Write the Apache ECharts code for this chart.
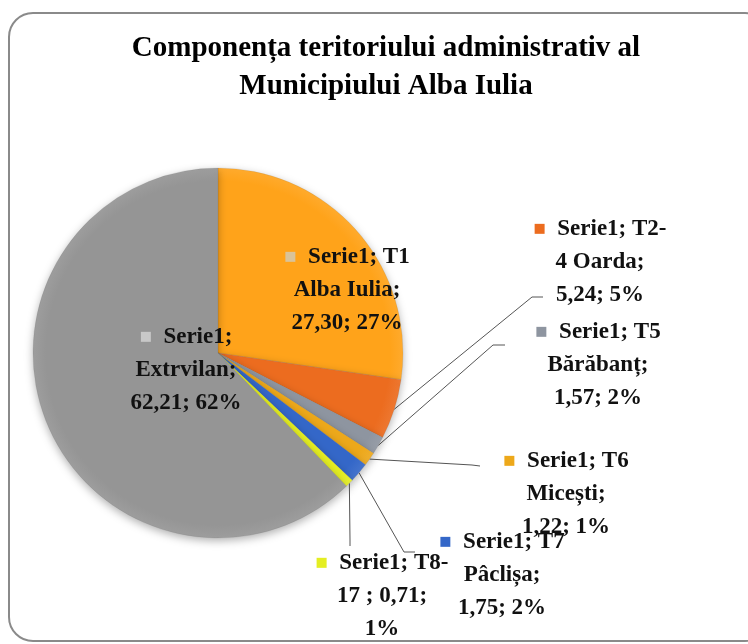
<!DOCTYPE html>
<html>
<head>
<meta charset="utf-8">
<script src="https://cdn.jsdelivr.net/npm/echarts@6/dist/echarts.min.js"></script>
<style>
  html, body { margin: 0; padding: 0; background: #fff; }
  #chart { width: 748px; height: 644px; }
</style>
</head>
<body>
<div id="chart"></div>
<script>
// date din grafic (ha)
const names = ['T1 Alba Iulia', 'T2-4 Oarda', 'T5 Bărăbanț', 'T6 Micești', 'T7 Pâclișa', 'T8-17', 'Extrvilan'];
const values = [27.30, 5.24, 1.57, 1.22, 1.75, 0.71, 62.21];
const colors = ['#FFA31A', '#EC6C1F', '#8E95A0', '#EDA81A', '#3467C8', '#E4EE22', '#959595'];
// textul etichetelor, rupt pe randuri ca in original
const labelTemplates = [
  'Serie1; T1\nAlba Iulia;\n{v}; {p}',
  'Serie1; T2-\n4 Oarda;\n{v}; {p}',
  'Serie1; T5\nBărăbanț;\n{v}; {p}',
  'Serie1; T6\nMicești;\n{v}; {p}',
  'Serie1; T7\nPâclișa;\n{v}; {p}',
  'Serie1; T8-\n17 ; {v};\n{p}',
  'Serie1;\nExtrvilan;\n{v}; {p}'
];
// pozitia etichetelor (centrul blocului) si capetele liniilor de legatura
const labelPos = [
  [347, 290], [600, 262], [598, 365], [566, 494], [502, 575], [382, 596], [186, 370]
];
const guideEnds = [
  null,
  [[532, 297], [543, 297]],
  [[493, 345], [505, 345]],
  [[472, 465], [480, 466]],
  [[404, 552], [415, 552]],
  [[350, 540], [350, 546]],
  null
];
const insideIdx = [0, 6];

const total = values.reduce((a, b) => a + b, 0);
const fmtVal = v => v.toFixed(2).replace('.', ',');

const chart = echarts.init(document.getElementById('chart'));

const data = values.map((v, i) => {
  const inside = insideIdx.includes(i);
  const text = labelTemplates[i]
    .replace('{v}', fmtVal(v))
    .replace('{p}', Math.round(v / total * 100) + '%');
  return {
    name: names[i],
    value: v,
    itemStyle: {
      color: {
        type: 'radial', x: 218, y: 353, r: 185, global: true,
        colorStops: [
          {offset: 0, color: colors[i]},
          {offset: 0.93, color: colors[i]},
          {offset: 1, color: echarts.color.lift(colors[i], 0.08)}
        ]
      }
    },
    label: {
      position: inside ? 'inside' : 'outside',
      formatter: '{m|■}  ' + text,
      rich: {
        m: {
          fontFamily: 'DejaVu Sans',
          fontSize: 13,
          color: inside ? '#D9C39A' : colors[i]
        }
      }
    },
    labelLine: {show: !inside}
  };
});
data[6].label.rich.m.color = '#C8C8C8';

const option = {
  backgroundColor: '#fff',
  title: {
    text: 'Componența teritoriului administrativ al\nMunicipiului Alba Iulia',
    left: 381,
    textAlign: 'center',
    top: 25,
    textStyle: {
      fontFamily: 'Liberation Serif',
      fontWeight: 'bold',
      fontSize: 29,
      lineHeight: 38,
      color: '#000'
    }
  },
  graphic: [{
    type: 'rect',
    shape: {x: 9, y: 13, width: 760, height: 628, r: 24},
    style: {fill: 'none', stroke: '#8a8a8a', lineWidth: 2},
    silent: true
  }],
  series: [{
    type: 'pie',
    center: [218, 353],
    radius: 185,
    startAngle: 90,
    clockwise: true,
    animation: false,
    data: data,
    itemStyle: {
      borderColor: 'rgba(90,90,90,0.2)',
      borderWidth: 0.6,
      shadowBlur: 8,
      shadowOffsetY: 3,
      shadowColor: 'rgba(0,0,0,0.3)'
    },
    label: {
      fontFamily: 'Liberation Serif',
      fontWeight: 'bold',
      fontSize: 23,
      lineHeight: 33,
      color: '#111',
      align: 'center'
    },
    labelLine: {
      length: 20,
      length2: 12,
      lineStyle: {color: '#555', width: 1}
    },
    labelLayout: function (params) {
      const i = params.dataIndex;
      const p = labelPos[i];
      const res = {x: p[0], y: p[1], align: 'center', verticalAlign: 'middle'};
      if (guideEnds[i] && params.labelLinePoints) {
        res.labelLinePoints = [params.labelLinePoints[0]].concat(guideEnds[i]);
      }
      return res;
    }
  }]
};
chart.setOption(option);
</script>
</body>
</html>
